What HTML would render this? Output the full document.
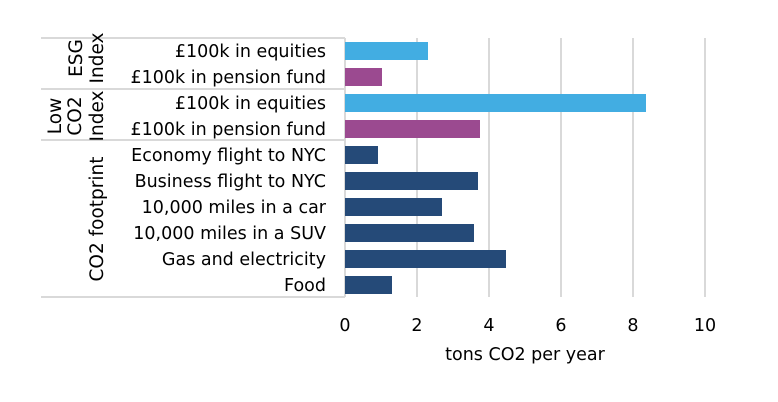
<!DOCTYPE html>
<html><head><style>body{margin:0;background:#fff}svg{display:block}text{font-family:"DejaVu Sans","Liberation Sans",sans-serif;fill:#000}</style></head>
<body>
<svg width="778" height="402" viewBox="0 0 778 402">
<g stroke="#d9d9d9" stroke-width="2">
<line x1="417" y1="38" x2="417" y2="297"/>
<line x1="489" y1="38" x2="489" y2="297"/>
<line x1="561" y1="38" x2="561" y2="297"/>
<line x1="633" y1="38" x2="633" y2="297"/>
<line x1="705" y1="38" x2="705" y2="297"/>
<line x1="345" y1="38" x2="345" y2="297"/>
<line x1="41" y1="38" x2="345" y2="38"/>
<line x1="41" y1="89" x2="345" y2="89"/>
<line x1="41" y1="140" x2="345" y2="140"/>
<line x1="41" y1="297" x2="345" y2="297"/>
</g>
<g>
<rect x="345" y="42" width="83" height="18" fill="#42ade2"/>
<rect x="345" y="68" width="37" height="18" fill="#9b4a90"/>
<rect x="345" y="94" width="301" height="18" fill="#42ade2"/>
<rect x="345" y="120" width="135" height="18" fill="#9b4a90"/>
<rect x="345" y="146" width="33" height="18" fill="#254a78"/>
<rect x="345" y="172" width="133" height="18" fill="#254a78"/>
<rect x="345" y="198" width="97" height="18" fill="#254a78"/>
<rect x="345" y="224" width="129" height="18" fill="#254a78"/>
<rect x="345" y="250" width="161" height="18" fill="#254a78"/>
<rect x="345" y="276" width="47" height="18" fill="#254a78"/>
</g>
<g font-size="17.5" text-anchor="end">
<text x="326" y="57">£100k in equities</text>
<text x="326" y="83">£100k in pension fund</text>
<text x="326" y="109">£100k in equities</text>
<text x="326" y="135">£100k in pension fund</text>
<text x="326" y="161">Economy flight to NYC</text>
<text x="326" y="187">Business flight to NYC</text>
<text x="326" y="213">10,000 miles in a car</text>
<text x="326" y="239">10,000 miles in a SUV</text>
<text x="326" y="265">Gas and electricity</text>
<text x="326" y="291">Food</text>
</g>
<g font-size="18.5" text-anchor="middle">
<text transform="translate(82,58) rotate(-90)">ESG</text>
<text transform="translate(103,58) rotate(-90)">Index</text>
<text transform="translate(61,116) rotate(-90)">Low</text>
<text transform="translate(81,116) rotate(-90)">CO2</text>
<text transform="translate(103,116) rotate(-90)">Index</text>
<text transform="translate(103,219) rotate(-90)">CO2 footprint</text>
</g>
<g font-size="17.5" text-anchor="middle">
<text x="345" y="331">0</text>
<text x="417" y="331">2</text>
<text x="489" y="331">4</text>
<text x="561" y="331">6</text>
<text x="633" y="331">8</text>
<text x="705" y="331">10</text>
<text x="525" y="360">tons CO2 per year</text>
</g>
</svg>
</body></html>
